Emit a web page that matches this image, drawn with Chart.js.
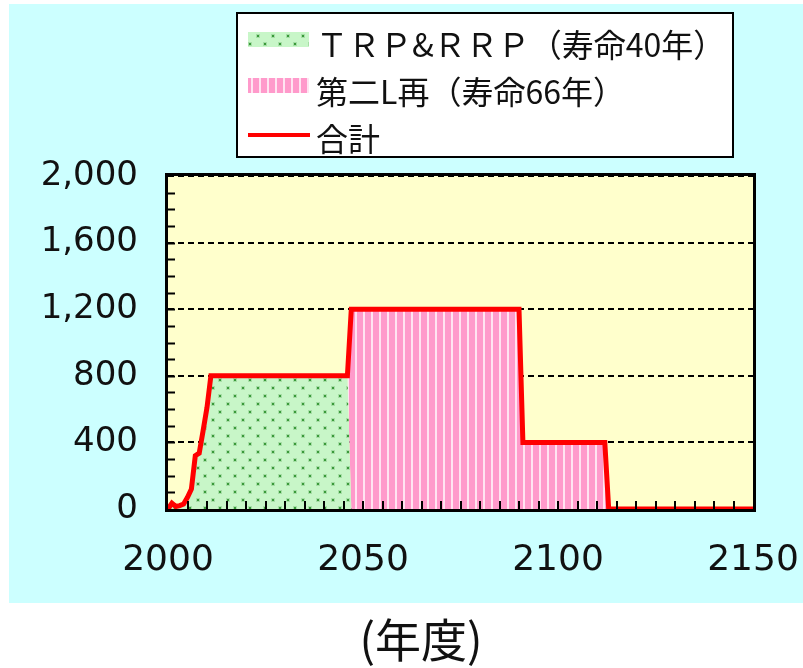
<!DOCTYPE html>
<html>
<head>
<meta charset="utf-8">
<script src="https://cdn.jsdelivr.net/npm/chart.js@4"></script>
<style>
  body { margin: 0; background: #fff; }
</style>
</head>
<body>
<canvas id="chart" width="803" height="668"></canvas>
<script>
// 年度ごとの値
var years   = [2000, 2001, 2002, 2003, 2004, 2005, 2006, 2007, 2008, 2009, 2010, 2011, 2046, 2047, 2090, 2091, 2112, 2113, 2150];
var trpRrp  = [0, 35, 15, 20, 30, 70, 120, 320, 335, 470, 610, 800, 800, 0, 0, 0, 0, 0, 0];
var dainiL  = [0, 0, 0, 0, 0, 0, 0, 0, 0, 0, 0, 0, 0, 1200, 1200, 400, 400, 0, 0];
var total   = [0, 35, 15, 20, 30, 70, 120, 320, 335, 470, 610, 800, 800, 1200, 1200, 400, 400, 0, 0];
var labels  = ['ＴＲＰ&ＲＲＰ（寿命40年）', '第二L再（寿命66年）', '合計'];
var yTicks  = [0, 400, 800, 1200, 1600, 2000];
var xTicks  = [2000, 2050, 2100, 2150];

function points(vals) {
    return years.map(function(y, i) { return { x: y, y: vals[i] }; });
}

// 塗りパターン
function dotPattern() {
    var c = document.createElement('canvas');
    c.width = 15; c.height = 16;
    var g = c.getContext('2d');
    g.fillStyle = '#c8f6c8';
    g.fillRect(0, 0, 15, 16);
    g.fillStyle = '#a6dea6';
    g.fillRect(1, 2, 4, 4);
    g.fillRect(8, 10, 4, 4);
    g.fillStyle = '#3a9a3a';
    g.fillRect(2, 3, 2, 2);
    g.fillRect(9, 11, 2, 2);
    return g.createPattern(c, 'repeat');
}
function stripePattern() {
    var c = document.createElement('canvas');
    c.width = 8; c.height = 8;
    var g = c.getContext('2d');
    g.fillStyle = '#ff9acb';
    g.fillRect(0, 0, 8, 8);
    g.fillStyle = '#ffe4f1';
    g.fillRect(3, 0, 2, 8);
    return g.createPattern(c, 'repeat');
}
var green = dotPattern();
var pink = stripePattern();

var decor = {
    id: 'decor',
    beforeDraw: function(chart) {
        var ctx = chart.ctx, a = chart.chartArea;
        ctx.save();
        ctx.fillStyle = '#ccffff';
        ctx.fillRect(9, 4, 794, 599);
        ctx.fillStyle = '#ffffcc';
        ctx.fillRect(a.left, a.top, a.right - a.left, a.bottom - a.top);
        ctx.restore();
    },
    afterDatasetsDraw: function(chart) {
        var ctx = chart.ctx, a = chart.chartArea;
        var xs = chart.scales.x, ys = chart.scales.y;
        ctx.save();
        ctx.strokeStyle = '#000';
        ctx.lineWidth = 2;
        ctx.beginPath();
        for (var v = 100; v < 2000; v += 100) {
            var py = Math.round(ys.getPixelForValue(v)) + 0.5;
            ctx.moveTo(a.left, py);
            ctx.lineTo(a.left + 7, py);
        }
        for (var t = 2005; t < 2150; t += 5) {
            var px = Math.round(xs.getPixelForValue(t));
            ctx.moveTo(px, a.bottom);
            ctx.lineTo(px, a.bottom - 8);
        }
        ctx.stroke();
        ctx.lineWidth = 3;
        ctx.strokeRect(a.left - 1.5, a.top - 1.5, a.right - a.left + 3, a.bottom - a.top + 3);

        // 凡例
        var ds = chart.data.datasets;
        ctx.fillStyle = '#fff';
        ctx.fillRect(237, 13, 496, 144);
        ctx.lineWidth = 2;
        ctx.strokeRect(237, 13, 496, 144);
        ctx.fillStyle = green;
        ctx.fillRect(248, 32, 61, 15);
        ctx.fillStyle = pink;
        ctx.fillRect(248, 78, 61, 15);
        ctx.strokeStyle = '#ff0000';
        ctx.lineWidth = 4;
        ctx.beginPath();
        ctx.moveTo(248, 135);
        ctx.lineTo(310, 135);
        ctx.stroke();
        ctx.fillStyle = '#111';
        ctx.font = '32px "Noto Sans CJK JP"';
        ctx.textBaseline = 'middle';
        ctx.textAlign = 'left';
        ctx.fillText(ds[0].label, 316, 45);
        ctx.fillText(ds[1].label, 316, 92);
        ctx.fillText(ds[2].label, 316, 139);

        // 軸タイトル
        ctx.font = '46px "Noto Sans CJK JP"';
        ctx.textAlign = 'center';
        ctx.fillText('(年度)', 421, 640);
        ctx.restore();
    }
};

var ctx = document.getElementById('chart').getContext('2d');
var chart = new Chart(ctx, {
    type: 'line',
    data: {
        datasets: [{
            label: labels[0],
            data: points(trpRrp),
            stack: 'parts',
            backgroundColor: green,
            borderWidth: 0,
            pointRadius: 0,
            fill: 'origin',
            order: 1
        }, {
            label: labels[1],
            data: points(dainiL),
            stack: 'parts',
            backgroundColor: pink,
            borderWidth: 0,
            pointRadius: 0,
            fill: '-1',
            order: 1
        }, {
            label: labels[2],
            data: points(total),
            stack: 'sum',
            borderColor: '#ff0000',
            borderWidth: 5,
            borderJoinStyle: 'miter',
            pointRadius: 0,
            fill: false,
            clip: 6,
            order: 0
        }]
    },
    options: {
        responsive: false,
        animation: false,
        layout: { padding: { top: 176, right: 50, left: 0, bottom: 0 } },
        plugins: { legend: { display: false }, tooltip: { enabled: false } },
        scales: {
            x: {
                type: 'linear',
                min: 2000,
                max: 2150,
                afterFit: function(s) { s.height = 159; s.paddingLeft = 0; s.paddingRight = 0; },
                afterBuildTicks: function(s) { s.ticks = xTicks.map(function(v) { return { value: v }; }); },
                grid: { display: false, drawTicks: false },
                border: { display: false },
                ticks: {
                    padding: 30,
                    color: '#111',
                    font: { family: 'DejaVu Sans', size: 36 },
                    callback: function(v) { return String(v); }
                }
            },
            y: {
                stacked: true,
                min: 0,
                max: 2000,
                afterFit: function(s) { s.width = 168; s.paddingTop = 0; s.paddingBottom = 0; },
                afterBuildTicks: function(s) { s.ticks = yTicks.map(function(v) { return { value: v }; }); },
                grid: { color: '#000', lineWidth: 2, drawTicks: false },
                border: { display: false, dash: [6, 4] },
                ticks: {
                    padding: 30,
                    color: '#111',
                    font: { family: 'DejaVu Sans', size: 34 },
                    callback: function(v) { return v.toLocaleString('en-US'); }
                }
            }
        }
    },
    plugins: [decor]
});
</script>
</body>
</html>
